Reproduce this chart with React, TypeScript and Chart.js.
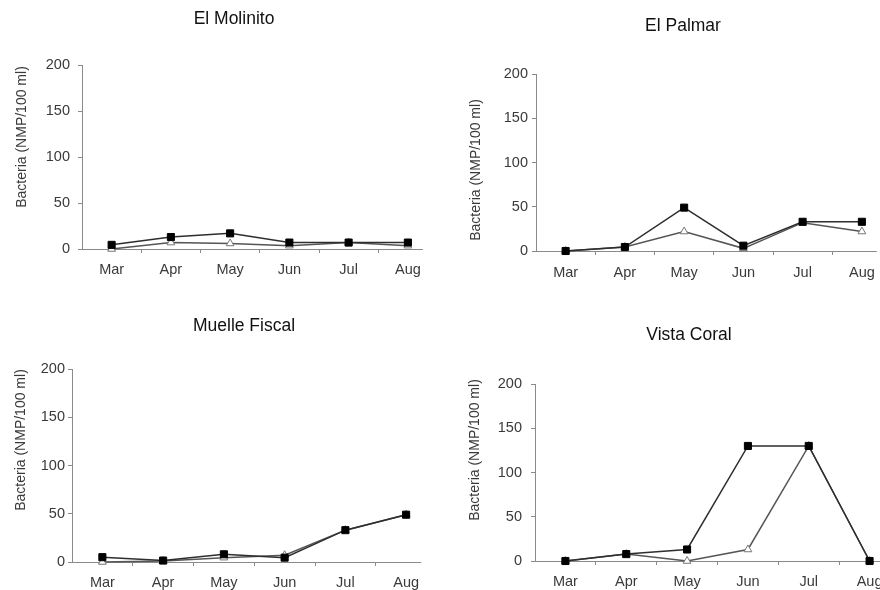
import React, { useEffect, useRef } from "react";
import { Chart, registerables } from "chart.js";

Chart.register(...registerables);

// ---- data ----
const months = ["Mar", "Apr", "May", "Jun", "Jul", "Aug"];
const yTickValues = [0, 50, 100, 150, 200];
const yAxisTitle = "Bacteria (NMP/100 ml)";
const siteNames = ["El Molinito", "El Palmar", "Muelle Fiscal", "Vista Coral"];

const molinitoSquares = [4.5, 13, 17, 7, 7, 7];
const molinitoTriangles = [0, 7, 6, 3.6, 7, 3.6];
const palmarSquares = [0, 4.5, 49, 6, 33, 33];
const palmarTriangles = [0, 4.5, 22, 3, 32, 22];
const muelleSquares = [5, 1.5, 8, 4.5, 33, 49];
const muelleTriangles = [0, 1, 4.5, 7, 33, 49];
const coralSquares = [0, 7.8, 13, 130, 130, 0];
const coralTriangles = [0, 7.8, 0, 13, 130, 0];

// ---- layout / style ----
const AXIS = "#8a8a8a";
const TEXT = "#3a3a3a";
const FONT = "'Liberation Sans', Arial, sans-serif";
const Y_W = 50;
const X_H = 40;

type Panel = {
  name: string;
  squares: number[];
  triangles: number[];
  canvas: { x: number; y: number; w: number; h: number };
  area: { l: number; r: number; t: number; b: number };
  title: { x: number; y: number };
  yTitle: { x: number; y: number };
  yPad: number;
  xPad: number;
};

const panels: Panel[] = [
  {
    name: siteNames[0],
    squares: molinitoSquares,
    triangles: molinitoTriangles,
    canvas: { x: 0, y: 0, w: 460, h: 295 },
    area: { l: 82, r: 437.5, t: 65, b: 249 },
    title: { x: 234, y: 19 },
    yTitle: { x: 22, y: 137 },
    yPad: 8,
    xPad: 8,
  },
  {
    name: siteNames[1],
    squares: palmarSquares,
    triangles: palmarTriangles,
    canvas: { x: 430, y: 0, w: 480, h: 295 },
    area: { l: 536, r: 891.5, t: 74, b: 251 },
    title: { x: 683, y: 26 },
    yTitle: { x: 476, y: 170 },
    yPad: 4,
    xPad: 9,
  },
  {
    name: siteNames[2],
    squares: muelleSquares,
    triangles: muelleTriangles,
    canvas: { x: 0, y: 295, w: 460, h: 310 },
    area: { l: 72, r: 436.5, t: 369, b: 562 },
    title: { x: 244, y: 326 },
    yTitle: { x: 21, y: 440 },
    yPad: 3,
    xPad: 8,
  },
  {
    name: siteNames[3],
    squares: coralSquares,
    triangles: coralTriangles,
    canvas: { x: 430, y: 295, w: 480, h: 310 },
    area: { l: 535, r: 900, t: 384, b: 561 },
    title: { x: 689, y: 335 },
    yTitle: { x: 475, y: 450 },
    yPad: 9,
    xPad: 8,
  },
];

function PanelChart({ p }: { p: Panel }) {
  const ref = useRef<HTMLCanvasElement | null>(null);

  useEffect(() => {
    if (!ref.current) return;
    const c = p.canvas;
    const decor = {
      id: "decor" + p.name,
      beforeDatasetsDraw(chart: any) {
        const ctx = chart.ctx;
        const area = chart.chartArea;
        const xs = chart.scales.x;
        const endX = xs.getPixelForValue(months.length - 1) + 15;
        ctx.save();
        ctx.strokeStyle = AXIS;
        ctx.lineWidth = 1;
        ctx.beginPath();
        ctx.moveTo(area.left, Math.round(area.bottom) + 0.5);
        ctx.lineTo(endX, Math.round(area.bottom) + 0.5);
        ctx.stroke();
        ctx.restore();
      },
      afterDraw(chart: any) {
        const ctx = chart.ctx;
        ctx.save();
        ctx.fillStyle = "#111";
        ctx.font = `17.5px ${FONT}`;
        ctx.textAlign = "center";
        ctx.textBaseline = "middle";
        ctx.fillText(p.name, p.title.x - c.x, p.title.y - c.y);
        ctx.fillStyle = TEXT;
        ctx.font = `14px ${FONT}`;
        ctx.translate(p.yTitle.x - c.x, p.yTitle.y - c.y);
        ctx.rotate(-Math.PI / 2);
        ctx.fillText(yAxisTitle, 0, 0);
        ctx.restore();
      },
    };

    const chart = new Chart(ref.current, {
      type: "line",
      data: {
        labels: months,
        datasets: [
          {
            label: "squares",
            data: p.squares,
            borderColor: "#2e2e2e",
            borderWidth: 1.5,
            pointStyle: "rect",
            pointRadius: 5,
            pointBackgroundColor: "#000",
            pointBorderColor: "#000",
            pointBorderWidth: 1,
            tension: 0,
            clip: false as any,
          },
          {
            label: "triangles",
            data: p.triangles,
            borderColor: "#555",
            borderWidth: 1.5,
            pointStyle: "triangle",
            pointRadius: 4.5,
            pointBackgroundColor: "#fff",
            pointBorderColor: "#777",
            pointBorderWidth: 1,
            tension: 0,
            clip: false as any,
          },
        ],
      },
      options: {
        responsive: false,
        animation: false,
        events: [],
        layout: {
          padding: {
            left: p.area.l - c.x - Y_W,
            right: c.x + c.w - p.area.r,
            top: p.area.t - c.y,
            bottom: c.y + c.h - p.area.b - X_H,
          },
        },
        plugins: {
          legend: { display: false },
          title: { display: false },
          tooltip: { enabled: false },
        },
        scales: {
          x: {
            type: "category",
            offset: true,
            grid: {
              offset: true,
              drawOnChartArea: false,
              drawTicks: true,
              tickLength: 4,
              color: (ctx: any) =>
                ctx.type === "tick" && ctx.index > 0 ? AXIS : "rgba(0,0,0,0)",
            },
            border: { display: false },
            ticks: {
              color: TEXT,
              font: { family: FONT, size: 14.5 },
              padding: p.xPad,
              maxRotation: 0,
              autoSkip: false,
            },
            afterFit: (s: any) => {
              s.height = X_H;
            },
          },
          y: {
            min: 0,
            max: 200,
            grid: {
              drawOnChartArea: false,
              drawTicks: true,
              tickLength: 4,
              color: AXIS,
            },
            border: { display: true, color: AXIS, width: 1 },
            ticks: {
              color: TEXT,
              font: { family: FONT, size: 14.5 },
              padding: p.yPad,
            },
            afterBuildTicks: (s: any) => {
              s.ticks = yTickValues.map((v) => ({ value: v }));
            },
            afterFit: (s: any) => {
              s.width = Y_W;
            },
          },
        },
      },
      plugins: [decor],
    });
    return () => chart.destroy();
  }, [p]);

  return (
    <canvas
      ref={ref}
      width={p.canvas.w}
      height={p.canvas.h}
      style={{
        position: "absolute",
        left: p.canvas.x,
        top: p.canvas.y,
        width: p.canvas.w,
        height: p.canvas.h,
      }}
    />
  );
}

export default function App() {
  return (
    <div
      style={{
        position: "absolute",
        left: 0,
        top: 0,
        width: 880,
        height: 590,
        overflow: "hidden",
        background: "#fff",
      }}
    >
      {panels.map((p) => (
        <PanelChart key={p.name} p={p} />
      ))}
    </div>
  );
}
